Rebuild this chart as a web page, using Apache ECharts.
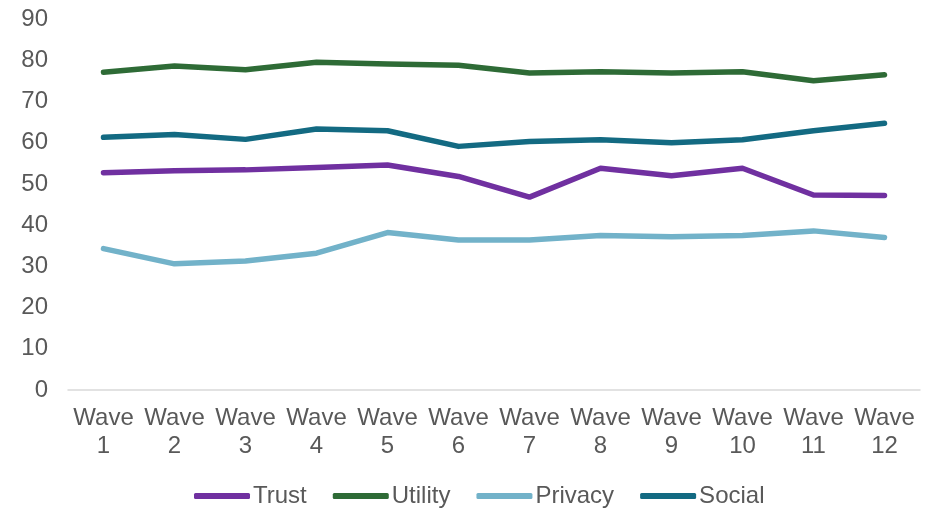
<!DOCTYPE html>
<html>
<head>
<meta charset="utf-8">
<script src="https://cdn.jsdelivr.net/npm/echarts@6/dist/echarts.min.js"></script>
<style>
  html, body { margin: 0; padding: 0; background: #fff; }
  #chart { width: 940px; height: 509px; }
</style>
</head>
<body>
<div id="chart"></div>
<script>
// Wave labels along the bottom axis
const waves = ['Wave\n1', 'Wave\n2', 'Wave\n3', 'Wave\n4', 'Wave\n5', 'Wave\n6',
               'Wave\n7', 'Wave\n8', 'Wave\n9', 'Wave\n10', 'Wave\n11', 'Wave\n12'];

// Index scores per wave
const trust   = [52.7, 53.2, 53.4, 54.0, 54.6, 51.8, 46.8, 53.8, 52.0, 53.8, 47.3, 47.2];
const utility = [77.1, 78.6, 77.7, 79.5, 79.1, 78.8, 76.9, 77.2, 76.9, 77.2, 75.0, 76.5];
const privacy = [34.3, 30.6, 31.3, 33.2, 38.2, 36.4, 36.4, 37.5, 37.2, 37.5, 38.6, 37.0];
const social  = [61.3, 62.0, 60.8, 63.3, 62.9, 59.1, 60.3, 60.7, 60.0, 60.7, 62.9, 64.7];

const seriesNames = ['Trust', 'Utility', 'Privacy', 'Social'];
const seriesData = [trust, utility, privacy, social];
const colors = ['#7030A0', '#2E6B36', '#72B2C9', '#136A82'];

const font = '"Liberation Sans", Arial, sans-serif';
const textColor = '#595959';

const chart = echarts.init(document.getElementById('chart'), null, { renderer: 'canvas' });

chart.setOption({
  animation: false,
  color: colors,
  grid: { left: 68, right: 20, top: 19, bottom: 119, containLabel: false },
  legend: {
    top: 484,
    left: 194,
    padding: 0,
    icon: 'roundRect',
    itemWidth: 56,
    itemHeight: 6,
    itemGap: 26,
    data: seriesNames,
    textStyle: { color: textColor, fontSize: 24, fontFamily: font, padding: [0, 0, 0, -2] }
  },
  xAxis: {
    type: 'category',
    data: waves,
    boundaryGap: true,
    axisLine: { show: true, lineStyle: { color: '#D9D9D9', width: 1.5 } },
    axisTick: { show: false },
    axisLabel: {
      color: textColor, fontSize: 24, fontFamily: font,
      lineHeight: 28, margin: 14, interval: 0
    }
  },
  yAxis: {
    type: 'value',
    min: 0,
    max: 90,
    interval: 10,
    axisLine: { show: false },
    axisTick: { show: false },
    splitLine: { show: false },
    axisLabel: { color: textColor, fontSize: 24, fontFamily: font, margin: 20 }
  },
  series: seriesNames.map((name, i) => ({
    name: name,
    type: 'line',
    data: seriesData[i],
    symbol: 'none',
    lineStyle: { width: 5.5, color: colors[i], cap: 'round', join: 'round' },
    itemStyle: { color: colors[i] }
  }))
});
</script>
</body>
</html>
